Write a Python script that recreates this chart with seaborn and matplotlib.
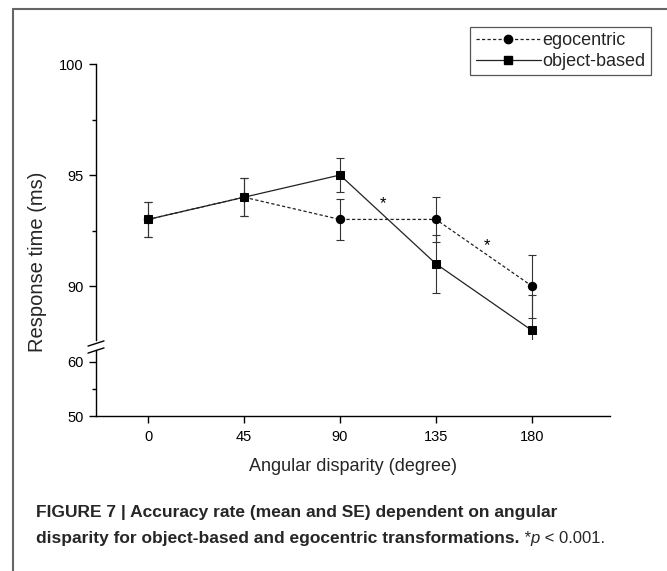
import numpy as np
import pandas as pd
import matplotlib
matplotlib.use('Agg')
import matplotlib.pyplot as plt
import seaborn as sns
from matplotlib.lines import Line2D
from matplotlib.text import Annotation

# valeurs
angles = [0, 45, 90, 135, 180]
ego_mean = [93.0, 94.0, 93.0, 93.0, 90.0]
ego_se = [0.8, 0.85, 0.93, 1.0, 1.42]
obj_mean = [93.0, 94.0, 95.0, 91.0, 88.0]
obj_se = [0.8, 0.85, 0.77, 1.3, 1.58]
conditions = ['egocentric', 'object-based']
x_ticks = [0, 45, 90, 135, 180]
star_pos = [(110, 93.5), (159, 91.6)]

df = pd.DataFrame({
    'angle': angles * 2,
    'rt': ego_mean + obj_mean,
    'se': ego_se + obj_se,
    'cond': [conditions[0]] * 5 + [conditions[1]] * 5,
})

sns.set_theme(style='ticks')
plt.rcParams['font.family'] = ['Liberation Sans', 'DejaVu Sans']

W, H = 667, 571
fig = plt.figure(figsize=(W / 100, H / 100), dpi=100)

def fx(px):
    return px / W

def fy(py):
    return 1 - py / H

# axe cassé : partie haute (88-100) et partie basse (50-62)
left, right = 96, 610
ax_top = fig.add_axes([fx(left), fy(340), fx(right - left), (340 - 64) / H])
ax_bot = fig.add_axes([fx(left), fy(416), fx(right - left), (416 - 350) / H], sharex=ax_top)

for cond in conditions:
    sub = df[df['cond'] == cond]
    ax_top.errorbar(sub['angle'], sub['rt'], yerr=sub['se'], fmt='none',
                    ecolor='#333333', elinewidth=0.8, capsize=2.6, capthick=0.8, zorder=2)

sns.lineplot(data=df, x='angle', y='rt', hue='cond', style='cond',
             palette={'egocentric': '#222222', 'object-based': '#222222'},
             markers={'egocentric': 'o', 'object-based': 's'},
             dashes={'egocentric': (2.6, 1.8), 'object-based': ''},
             markersize=6, linewidth=0.9, markeredgecolor='black',
             markerfacecolor='black', ax=ax_top, legend=False, zorder=3)

for sx, sy in star_pos:
    ax_top.text(sx, sy, '*', ha='center', va='baseline', fontsize=12, color='black')

ax_top.set_xlim(-24.4, 216.6)
ax_top.set_ylim(87.57, 100)
ax_bot.set_ylim(50, 62.2)
ax_top.set_yticks([90, 95, 100])
ax_top.set_yticks([92.5, 97.5], minor=True)
ax_bot.set_yticks([50, 60])
ax_bot.set_yticks([55], minor=True)
ax_bot.set_xticks(x_ticks)

sns.despine(ax=ax_top, top=True, right=True, bottom=True)
sns.despine(ax=ax_bot, top=True, right=True)
ax_top.tick_params(axis='x', bottom=False, labelbottom=False)
ax_top.set_xlabel('')
ax_top.set_ylabel('')
ax_bot.set_ylabel('')

for ax in (ax_top, ax_bot):
    ax.spines['left'].set_linewidth(1.0)
    ax.spines['left'].set_color('black')
    ax.spines['bottom'].set_linewidth(1.0)
    ax.spines['bottom'].set_color('black')
    ax.tick_params(which='major', direction='out', length=5, width=1,
                   color='black', labelsize=10.5, labelcolor='black')
    ax.tick_params(which='minor', direction='out', length=3, width=1, color='black')
    ax.tick_params(axis='y', pad=4)
    ax.tick_params(axis='x', pad=5)
    ax.set_facecolor('white')

ax_bot.set_xlabel('Angular disparity (degree)', fontsize=13, labelpad=10)
fig.text(fx(38), fy(262), 'Response time (ms)', rotation=90, ha='center',
         va='center', fontsize=14.5)

# marques de coupure sur l'axe
for yc in [343.5, 350.5]:
    fig.add_artist(Line2D([fx(88), fx(104)], [fy(yc + 2.6), fy(yc - 2.6)],
                          color='black', lw=1.0))

# légende
handles = [
    Line2D([], [], color='#222222', lw=0.9, dashes=(2.6, 1.8), marker='o',
           markersize=6, markerfacecolor='black', markeredgecolor='black'),
    Line2D([], [], color='#222222', lw=0.9, marker='s', markersize=6,
           markerfacecolor='black', markeredgecolor='black'),
]
leg = fig.legend(handles, conditions, loc='upper right',
                 bbox_to_anchor=(fx(651), fy(27)), frameon=True, fancybox=False,
                 edgecolor='#555555', framealpha=1, fontsize=13,
                 handlelength=3.6, handletextpad=0.1, borderpad=0.3,
                 labelspacing=0.2, borderaxespad=0)
leg.get_frame().set_linewidth(0.9)

# cadre de la figure
fig.add_artist(Line2D([fx(13), fx(13)], [0, fy(9)], color='#666666', lw=1.5))
fig.add_artist(Line2D([fx(13), 1], [fy(9), fy(9)], color='#666666', lw=1.5))

# légende de la figure
cap_font = ['Liberation Sans Narrow', 'Liberation Sans', 'DejaVu Sans']
fig.text(fx(36), fy(517), 'FIGURE 7 | Accuracy rate (mean and SE) dependent on angular',
         fontsize=12.5, fontweight='bold', family=cap_font, va='baseline')
t1 = fig.text(fx(36), fy(543), 'disparity for object-based and egocentric transformations.',
              fontsize=12.5, fontweight='bold', family=cap_font, va='baseline')
a2 = fig.add_artist(Annotation(' *', xy=(1, 0), xycoords=t1, va='bottom',
                               fontsize=12, family=cap_font))
a3 = fig.add_artist(Annotation('p', xy=(1, 0), xycoords=a2, va='bottom',
                               fontsize=12, family=cap_font, style='italic'))
fig.add_artist(Annotation(' < 0.001.', xy=(1, 0), xycoords=a3, va='bottom',
                          fontsize=12, family=cap_font))

fig.savefig('out.png', dpi=100, facecolor='white')
